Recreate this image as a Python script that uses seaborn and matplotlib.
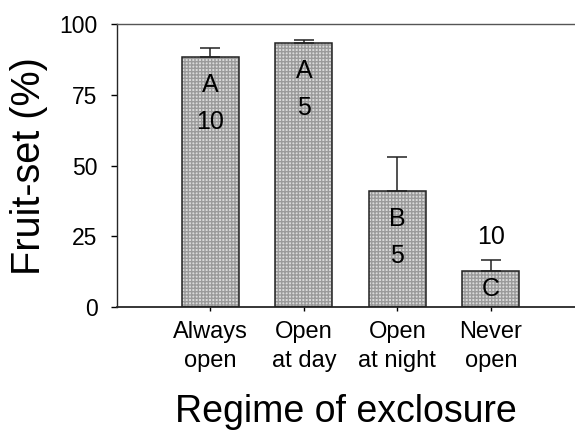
import matplotlib
matplotlib.use("Agg")
import matplotlib.pyplot as plt
import seaborn as sns
import pandas as pd

# values
regimes = ["Always\nopen", "Open\nat day", "Open\nat night", "Never\nopen"]
fruit_set = [88.4, 93.4, 41.1, 12.8]
se_upper = [3.3, 0.9, 12.0, 4.0]
groups = ["A", "A", "B", "C"]
n_plants = [10, 5, 5, 10]

sns.set_style("ticks")
plt.rcParams['font.family'] = ['Liberation Sans', 'DejaVu Sans']
plt.rcParams.update({'text.color': 'black', 'axes.labelcolor': 'black',
                     'xtick.color': 'black', 'ytick.color': 'black'})

df = pd.DataFrame({'regime': regimes, 'fruit_set': fruit_set})

fig = plt.figure(figsize=(5.75, 4.32), dpi=100)
ax = fig.add_axes([0.2035, 0.289, 0.7965, 0.655])

sns.barplot(x='regime', y='fruit_set', data=df, ax=ax, width=0.61,
            color='#dadada', saturation=1, errorbar=None,
            edgecolor='#9a9a9a', linewidth=0, hatch='+++++')
# black outline drawn on top of the hatched fill
for p in ax.patches:
    ax.add_patch(plt.Rectangle(p.get_xy(), p.get_width(), p.get_height(),
                               fill=False, edgecolor='#222222', lw=1.1, zorder=3))

xs = range(len(regimes))
ax.errorbar(xs, fruit_set, yerr=[[0] * len(se_upper), se_upper], fmt='none',
            ecolor='#222222', elinewidth=1.1, capsize=7.5, capthick=1.1, zorder=2)

for i, (h, err, g, n) in enumerate(zip(fruit_set, se_upper, groups, n_plants)):
    if h > 25:
        ax.text(i, h - 10, g, ha='center', va='center', fontsize=18, zorder=4)
        ax.text(i, h - 23, str(n), ha='center', va='center', fontsize=18, zorder=4)
    else:
        ax.text(i, h / 2, g, ha='center', va='center', fontsize=18, zorder=4)
        ax.text(i, h + err + 8, str(n), ha='center', va='center', fontsize=18, zorder=4)

ax.set_xlim(-1.0, 3.9)
ax.set_ylim(0, 100)
ax.set_yticks([0, 25, 50, 75, 100])
ax.tick_params(axis='y', labelsize=16.5, length=4, width=1, pad=10)
ax.tick_params(axis='x', labelsize=17, length=3, width=1, pad=7)
for lab in ax.get_xticklabels():
    lab.set_linespacing(1.4)

ax.set_ylabel('Fruit-set (%)', fontsize=28.5, labelpad=8)
ax.set_xlabel('Regime of exclosure', fontsize=27, labelpad=16)

ax.spines['right'].set_visible(False)
ax.spines['top'].set_color('#555555')
ax.spines['top'].set_linewidth(1.0)
ax.spines['left'].set_linewidth(1.0)
ax.spines['bottom'].set_linewidth(1.3)

fig.savefig('out.png', dpi=100)
